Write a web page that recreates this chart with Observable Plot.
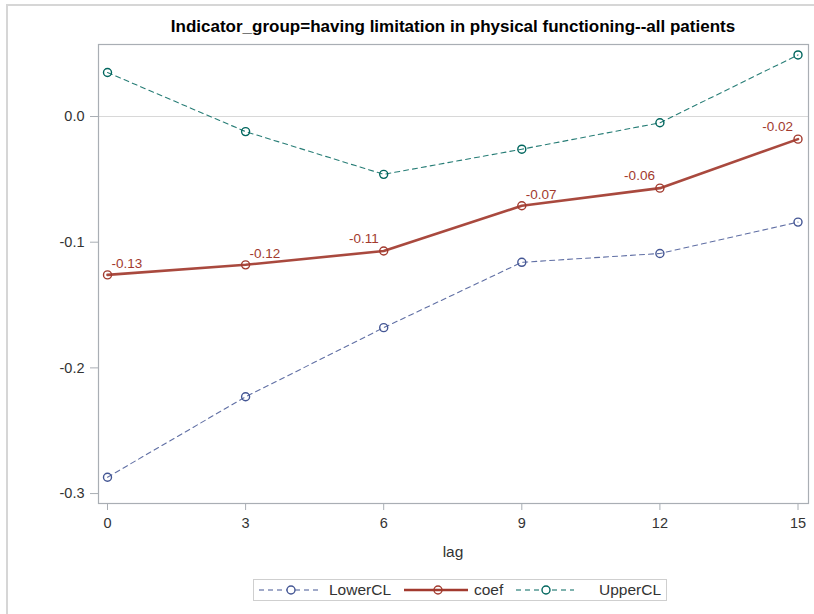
<!DOCTYPE html>
<html>
<head>
<meta charset="utf-8">
<script src="https://cdn.jsdelivr.net/npm/d3@7"></script>
<script src="https://cdn.jsdelivr.net/npm/@observablehq/plot@0.6"></script>
<style>
  body { margin: 0; background: #fff; font-family: "Liberation Sans", Arial, sans-serif; }
  #wrap { position: relative; width: 814px; height: 614px; overflow: hidden; }
  #edge { position: absolute; left: 6px; top: 4px; width: 820px; height: 620px;
          border-top: 2px solid #d6d6d6; border-left: 2px solid #d6d6d6; }
  #title { position: absolute; left: 98px; width: 710px; top: 17px; text-align: center;
           font-weight: bold; font-size: 17px; line-height: 20px; color: #000; }
  #chart { position: absolute; left: 0; top: 40px; }
  #xlabel { position: absolute; left: 98px; width: 710px; top: 542px; text-align: center;
            font-size: 15.5px; line-height: 20px; color: #333; }
  #legend { position: absolute; left: 253px; top: 579px; width: 414px; height: 22px;
            border: 1px solid #cfcfcf; box-sizing: border-box; }
</style>
</head>
<body>
<div id="wrap">
  <div id="edge"></div>
  <div id="title">Indicator_group=having limitation in physical functioning--all patients</div>
  <div id="chart"></div>
  <div id="xlabel">lag</div>
  <div id="legend"></div>
</div>
<script>
// Lag (months) and the estimated coefficient with its confidence limits
const lags    = [0, 3, 6, 9, 12, 15];
const coef    = [-0.126, -0.118, -0.107, -0.071, -0.057, -0.018];
const lowerCL = [-0.287, -0.223, -0.168, -0.116, -0.109, -0.084];
const upperCL = [0.035, -0.012, -0.046, -0.026, -0.005, 0.049];
const xTicks  = [0, 3, 6, 9, 12, 15];
const yTicks  = [0, -0.1, -0.2, -0.3];

const colors = { LowerCL: "#445694", coef: "#A23A2E", UpperCL: "#01665E" };

const rows = (name, values) => lags.map((lag, i) => ({ series: name, lag, value: values[i] }));
const lowerRows = rows("LowerCL", lowerCL);
const coefRows  = rows("coef", coef);
const upperRows = rows("UpperCL", upperCL);

// coefficient labels sit to the right of some points and to the left of others
const labelLeft = new Set([6, 12, 15]);
const fmt2 = v => v.toFixed(2);

const chart = Plot.plot({
  width: 814,
  height: 530,
  marginTop: 4,
  marginBottom: 67,
  marginLeft: 98,
  marginRight: 6,
  style: { fontFamily: "Liberation Sans, Arial, sans-serif", background: "transparent" },
  x: { domain: [-0.1955, 15.228] },
  y: { domain: [-0.3079, 0.0573] },
  marks: [
    Plot.ruleY([0], { stroke: "#d8d8d8", strokeWidth: 1 }),
    Plot.frame({ stroke: "#a9aeb4", strokeWidth: 1.2 }),
    Plot.axisX({ ticks: xTicks, tickFormat: d => String(d), tickSize: 7, tickPadding: 7,
                 stroke: "#a9aeb4", fill: "#333", fontSize: 14.5, label: null }),
    Plot.axisY({ ticks: yTicks, tickFormat: d => d.toFixed(1), tickSize: 8, tickPadding: 6,
                 stroke: "#a9aeb4", fill: "#333", fontSize: 14.5, label: null }),
    Plot.line(lowerRows, { x: "lag", y: "value", stroke: colors.LowerCL, strokeWidth: 1.1,
                           strokeDasharray: "5,4", strokeOpacity: 0.85 }),
    Plot.line(upperRows, { x: "lag", y: "value", stroke: colors.UpperCL, strokeWidth: 1.1,
                           strokeDasharray: "5,4", strokeOpacity: 0.85 }),
    Plot.line(coefRows, { x: "lag", y: "value", stroke: colors.coef, strokeWidth: 2.6, strokeOpacity: 0.92 }),
    Plot.dot(lowerRows, { x: "lag", y: "value", r: 4, stroke: colors.LowerCL, strokeWidth: 1.4, fill: "none" }),
    Plot.dot(upperRows, { x: "lag", y: "value", r: 4, stroke: colors.UpperCL, strokeWidth: 1.4, fill: "none" }),
    Plot.dot(coefRows, { x: "lag", y: "value", r: 4, stroke: colors.coef, strokeWidth: 1.4, fill: "none" }),
    Plot.text(coefRows.filter(d => !labelLeft.has(d.lag)), {
      x: "lag", y: "value", text: d => fmt2(d.value), textAnchor: "start",
      dx: 4, dy: -11, fill: colors.coef, fontSize: 13.5
    }),
    Plot.text(coefRows.filter(d => labelLeft.has(d.lag)), {
      x: "lag", y: "value", text: d => fmt2(d.value), textAnchor: "end",
      dx: -5, dy: -12, fill: colors.coef, fontSize: 13.5
    })
  ]
});
document.getElementById("chart").appendChild(chart);

// Legend: dashed/solid line swatches with a marker, followed by the series name
const legendItems = [
  { name: "LowerCL", x0: 5,   x1: 64,  cx: 37,  tx: 75,  dash: "5,4", width: 1.1 },
  { name: "coef",    x0: 150, x1: 214, cx: 184, tx: 220, dash: null,  width: 2.6 },
  { name: "UpperCL", x0: 262, x1: 320, cx: 292, tx: 345, dash: "5,4", width: 1.1 }
];
const lg = d3.select("#legend").append("svg")
  .attr("width", 412).attr("height", 20)
  .style("display", "block");
for (const it of legendItems) {
  const c = colors[it.name];
  lg.append("line").attr("x1", it.x0).attr("x2", it.x1).attr("y1", 10).attr("y2", 10)
    .attr("stroke", c).attr("stroke-width", it.width)
    .attr("stroke-dasharray", it.dash);
  lg.append("circle").attr("cx", it.cx).attr("cy", 10).attr("r", 4)
    .attr("fill", it.dash ? "#fff" : "none").attr("stroke", c).attr("stroke-width", 1.4);
  lg.append("text").attr("x", it.tx).attr("y", 10).attr("dy", "0.35em")
    .attr("font-size", 15.5).attr("fill", "#333")
    .attr("font-family", "Liberation Sans, Arial, sans-serif")
    .text(it.name);
}
</script>
</body>
</html>
